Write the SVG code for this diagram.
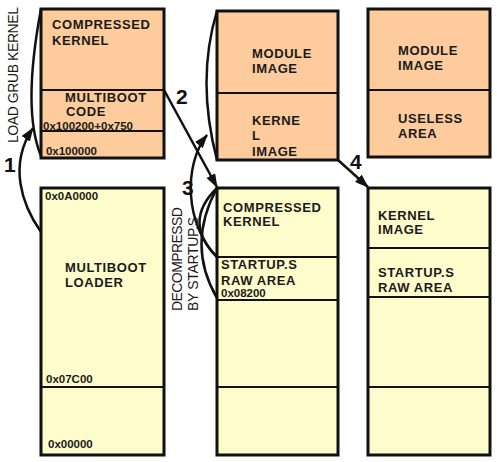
<svg xmlns="http://www.w3.org/2000/svg" width="497" height="462" viewBox="0 0 497 462">
<defs>
<style>
.or{fill:#FDCB9C;stroke:#111;stroke-width:3}
.ye{fill:#FFFDCC;stroke:#111;stroke-width:3}
.dv{stroke:#111;stroke-width:2.2}
.t{font-family:"Liberation Sans",Arial,sans-serif;font-weight:bold;font-size:13px;fill:#1a1a1a;letter-spacing:0.6px}
.h{font-family:"Liberation Sans",Arial,sans-serif;font-weight:bold;font-size:11.5px;fill:#1a1a1a}
.r{font-family:"Liberation Sans",Arial,sans-serif;font-size:14px;fill:#1a1a1a}
.n{font-family:"Liberation Sans",Arial,sans-serif;font-weight:bold;font-size:21px;fill:#111}
.c{fill:none;stroke:#111;stroke-width:2.5}
</style>
<marker id="ah" markerUnits="userSpaceOnUse" markerWidth="14" markerHeight="10" refX="13" refY="5" orient="auto">
<path d="M0,0 L14,5 L0,10 Z" fill="#111"/>
</marker>
</defs>
<rect width="497" height="462" fill="#fff"/>

<g id="nodeA">
<rect class="or" x="41" y="9" width="123" height="149"/>
<line class="dv" x1="41" y1="90" x2="164" y2="90"/>
<line class="dv" x1="41" y1="131" x2="164" y2="131"/>
<text class="t" x="52" y="29">COMPRESSED</text>
<text class="t" x="52" y="45">KERNEL</text>
<text class="t" x="65" y="102">MULTIBOOT</text>
<text class="t" x="66" y="116">CODE</text>
<text class="h" x="43" y="129.5" font-size="11" textLength="90">0x100200+0x750</text>
<text class="h" x="46" y="155" textLength="51">0x100000</text>
</g>

<g id="nodeB">
<rect class="ye" x="41" y="188" width="123" height="267"/>
<line class="dv" x1="41" y1="387" x2="164" y2="387"/>
<text class="h" x="45" y="200">0x0A0000</text>
<text class="t" x="65" y="272">MULTIBOOT</text>
<text class="t" x="65" y="287">LOADER</text>
<text class="h" x="46" y="383">0x07C00</text>
<text class="h" x="48" y="448">0x00000</text>
</g>

<g id="nodeC">
<rect class="or" x="217" y="11" width="121" height="149"/>
<line class="dv" x1="217" y1="93" x2="338" y2="93"/>
<text class="t" x="252" y="58">MODULE</text>
<text class="t" x="252" y="73">IMAGE</text>
<text class="t" x="252" y="125">KERNE</text>
<text class="t" x="252" y="140">L</text>
<text class="t" x="252" y="156">IMAGE</text>
</g>

<g id="nodeD">
<rect class="ye" x="217" y="188" width="121" height="267"/>
<line class="dv" x1="217" y1="257" x2="338" y2="257"/>
<line class="dv" x1="217" y1="300" x2="338" y2="300"/>
<line class="dv" x1="217" y1="387" x2="338" y2="387"/>
<text class="t" x="223" y="212">COMPRESSED</text>
<text class="t" x="223" y="226">KERNEL</text>
<text class="t" x="221" y="269">STARTUP.S</text>
<text class="t" x="221" y="285">RAW AREA</text>
<text class="h" x="221" y="297">0x08200</text>
</g>

<g id="nodeE">
<rect class="or" x="368" y="9" width="122" height="148"/>
<line class="dv" x1="368" y1="90" x2="490" y2="90"/>
<text class="t" x="398" y="55">MODULE</text>
<text class="t" x="398" y="70">IMAGE</text>
<text class="t" x="398" y="123">USELESS</text>
<text class="t" x="398" y="138">AREA</text>
</g>

<g id="nodeF">
<rect class="ye" x="368" y="188" width="122" height="267"/>
<line class="dv" x1="368" y1="248" x2="490" y2="248"/>
<line class="dv" x1="368" y1="297" x2="490" y2="297"/>
<line class="dv" x1="368" y1="387" x2="490" y2="387"/>
<text class="t" x="378" y="220">KERNEL</text>
<text class="t" x="378" y="234">IMAGE</text>
<text class="t" x="378" y="277">STARTUP.S</text>
<text class="t" x="378" y="292">RAW AREA</text>
</g>

<g id="connectors">
<path class="c" d="M41,9 Q22,110 41,156"/>
<path class="c" d="M41,232 C22,205 8,165 33,128" marker-end="url(#ah)"/>
<path class="c" d="M217,11 Q196,80 217,160"/>
<line class="c" x1="164" y1="90" x2="217" y2="187" marker-end="url(#ah)"/>
<path class="c" d="M217,188 Q182,222 217,257"/>
<path class="c" d="M217,188 Q186,245 217,298"/>
<path class="c" d="M217,257 C185,225 183,165 207,135" marker-end="url(#ah)"/>
<line class="c" x1="338" y1="160" x2="368" y2="187" marker-end="url(#ah)"/>
</g>

<g id="labels">
<text class="r" transform="translate(18,143) rotate(-90)" textLength="136">LOAD GRUB KERNEL</text>
<text class="r" transform="translate(182,311) rotate(-90)" textLength="104">DECOMPRESSD</text>
<text class="r" transform="translate(198,311) rotate(-90)" textLength="94">BY STARTUP.S</text>
<text class="n" x="4" y="172">1</text>
<text class="n" x="176" y="104">2</text>
<text class="n" x="182" y="195">3</text>
<text class="n" x="350" y="169">4</text>
</g>
</svg>
